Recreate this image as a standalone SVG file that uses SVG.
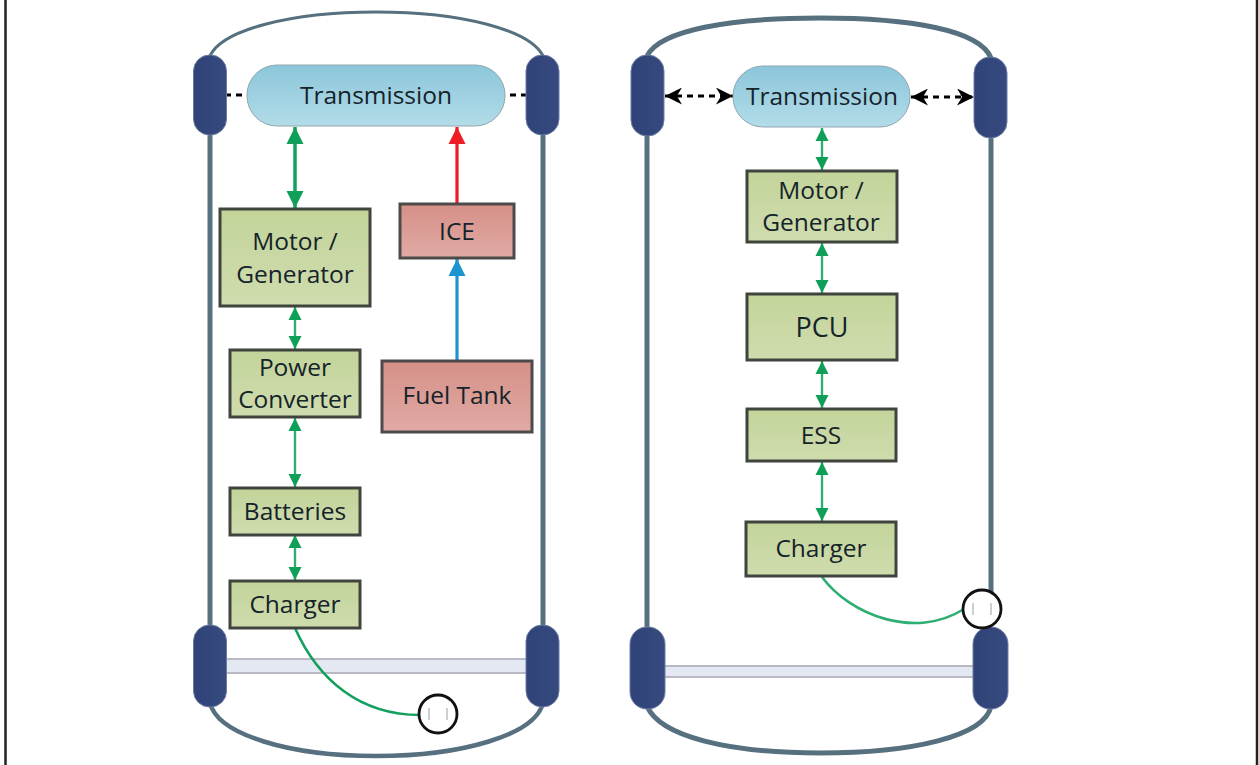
<svg xmlns="http://www.w3.org/2000/svg" width="1259" height="765" viewBox="0 0 1259 765">
<style>
text{font-family:"Open Sans","Noto Sans","DejaVu Sans",sans-serif;fill:#15232a;text-anchor:middle;font-size:24.500px}
.g{fill:url(#gg);stroke:#3f453d;stroke-width:3}
.r{fill:url(#gr);stroke:#4d4a4a;stroke-width:3}
.b{fill:url(#gb);stroke:#8fa6ae;stroke-width:1}
.w{fill:url(#gw);stroke:#6d7da0;stroke-width:1}
.body{fill:none;stroke:#56707f;stroke-linecap:round}
.a{fill:none;stroke:#2fae74;stroke-width:2.4}
.k{fill:none;stroke:#000;stroke-width:3;stroke-dasharray:6 5}
.axle{fill:#e4e8f3;stroke:#b2b3bd;stroke-width:1.8}
.plug{fill:#fff;stroke:#111;stroke-width:2.8}
.pin{stroke:#b5b5b5;stroke-width:1.3}
.cord{fill:none;stroke:#12a05c;stroke-width:2.6}
</style>
<defs>
<linearGradient id="gg" x1="0" y1="0" x2="0" y2="1"><stop offset="0" stop-color="#c3d49a"/><stop offset="1" stop-color="#cfdcae"/></linearGradient>
<linearGradient id="gr" x1="0" y1="0" x2="0" y2="1"><stop offset="0" stop-color="#d69088"/><stop offset="1" stop-color="#e0aaa4"/></linearGradient>
<linearGradient id="gb" x1="0" y1="0" x2="0" y2="1"><stop offset="0" stop-color="#8cc6da"/><stop offset="1" stop-color="#b2dce8"/></linearGradient>
<linearGradient id="gw" x1="0" y1="0" x2="1" y2="0"><stop offset="0" stop-color="#2f4379"/><stop offset="1" stop-color="#364a80"/></linearGradient>
<marker id="ge" viewBox="0 0 10 10" refX="10" refY="5" markerWidth="17" markerHeight="19" markerUnits="userSpaceOnUse" orient="auto-start-reverse"><path d="M0 0L10 5L0 10Z" fill="#0f9f58"/></marker>
<marker id="gs" viewBox="0 0 10 10" refX="10" refY="5" markerWidth="13" markerHeight="15" markerUnits="userSpaceOnUse" orient="auto-start-reverse"><path d="M0 0L10 5L0 10Z" fill="#0f9f58"/></marker>
<marker id="re" viewBox="0 0 10 10" refX="10" refY="5" markerWidth="17" markerHeight="19" markerUnits="userSpaceOnUse" orient="auto"><path d="M0 0L10 5L0 10Z" fill="#ee1c25"/></marker>
<marker id="be" viewBox="0 0 10 10" refX="10" refY="5" markerWidth="17" markerHeight="19" markerUnits="userSpaceOnUse" orient="auto"><path d="M0 0L10 5L0 10Z" fill="#1c94d0"/></marker>
<marker id="ke" viewBox="0 0 10 10" refX="10" refY="5" markerWidth="17" markerHeight="17" markerUnits="userSpaceOnUse" orient="auto-start-reverse"><path d="M0 0L10 5L0 10L3 5Z" fill="#000"/></marker>
</defs>
<path d="M5.500 0V765" stroke="#222" stroke-width="2.500" fill="none"/>
<path d="M1257 0V765" stroke="#222" stroke-width="2.500" fill="none"/>

<g id="connectors">
<path class="body" stroke-width="3" d="M210 56C222 30 290 12 376 12C462 12 530 30 543 56"/>
<path class="body" stroke-width="5" d="M210 130V630M543 130V630"/>
<path class="body" stroke-width="4.500" d="M210 703C218 735 290 756 376 756C462 756 535 735 543 703"/>
<path class="body" stroke-width="5" d="M647 56C660 30 730 18 820 18C910 18 980 30 991 58"/>
<path class="body" stroke-width="5" d="M647 132V632M991 135V595"/>
<path class="body" stroke-width="5" d="M647 706C660 737 730 753 820 753C910 753 985 737 991 706"/>
<rect class="axle" x="224" y="659" width="304" height="14"/>
<rect class="axle" x="662" y="666" width="320" height="11"/>
<path class="k" d="M225 95H243M510 95H527"/>
<path d="M295 127V208" fill="none" stroke="#12a05c" stroke-width="3.500" marker-start="url(#ge)" marker-end="url(#ge)"/>
<path d="M457 204V127" fill="none" stroke="#ee1c25" stroke-width="3.200" marker-end="url(#re)"/>
<path d="M457 360V259" fill="none" stroke="#1c94d0" stroke-width="3.200" marker-end="url(#be)"/>
<path class="a" d="M295 307V349" marker-start="url(#gs)" marker-end="url(#gs)"/>
<path class="a" d="M295 418V487" marker-start="url(#gs)" marker-end="url(#gs)"/>
<path class="a" d="M295 535V580" marker-start="url(#gs)" marker-end="url(#gs)"/>
<path class="cord" d="M295 628C318 680 360 715 420 715"/>
<path class="k" d="M665 96H733" marker-start="url(#ke)" marker-end="url(#ke)"/>
<path class="k" d="M911 97H974" marker-start="url(#ke)" marker-end="url(#ke)"/>
<path class="a" d="M822 128V170" marker-start="url(#gs)" marker-end="url(#gs)"/>
<path class="a" d="M822 243V293" marker-start="url(#gs)" marker-end="url(#gs)"/>
<path class="a" d="M822 361V408" marker-start="url(#gs)" marker-end="url(#gs)"/>
<path class="a" d="M822 462V521" marker-start="url(#gs)" marker-end="url(#gs)"/>
<path class="cord" style="stroke:#2fae74" d="M822 577C850 615 915 640 964 609"/>
</g>

<g id="wheel-fl"><rect class="w" x="193.500" y="55" width="33" height="80" rx="16"/></g>
<g id="wheel-fr"><rect class="w" x="526" y="55" width="33" height="80" rx="16"/></g>
<g id="wheel-rl"><rect class="w" x="193.500" y="625" width="33" height="82" rx="16"/></g>
<g id="wheel-rr"><rect class="w" x="526" y="625" width="33" height="82" rx="16"/></g>
<g id="wheel2-fl"><rect class="w" x="631" y="55" width="33" height="81" rx="16"/></g>
<g id="wheel2-fr"><rect class="w" x="974" y="57" width="33" height="81" rx="16"/></g>
<g id="wheel2-rl"><rect class="w" x="630" y="627" width="35" height="82" rx="17"/></g>
<g id="wheel2-rr"><rect class="w" x="973" y="627" width="35" height="82" rx="17"/></g>

<g id="plug1"><circle class="plug" cx="438" cy="714" r="19"/><path class="pin" d="M429 708V720M447 708V720"/></g>
<g id="plug2"><circle class="plug" cx="982" cy="609" r="19"/><path class="pin" d="M973 603V615M991 603V615"/></g>

<g id="transmission1"><rect class="b" x="247" y="65" width="258" height="61" rx="30"/><text x="376" y="104">Transmission</text></g>
<g id="motor1"><rect class="g" x="220" y="209" width="150" height="97"/><text x="295" y="250">Motor /</text><text x="295" y="283">Generator</text></g>
<g id="converter1"><rect class="g" x="230" y="350" width="130" height="67"/><text x="295" y="376">Power</text><text x="295" y="408">Converter</text></g>
<g id="batteries1"><rect class="g" x="230" y="488" width="130" height="47"/><text x="295" y="520">Batteries</text></g>
<g id="charger1"><rect class="g" x="230" y="581" width="130" height="47"/><text x="295" y="613">Charger</text></g>
<g id="ice"><rect class="r" x="400" y="204" width="114" height="54"/><text x="457" y="240">ICE</text></g>
<g id="fuel"><rect class="r" x="382" y="361" width="150" height="71"/><text x="457" y="404">Fuel Tank</text></g>

<g id="transmission2"><rect class="b" x="733" y="66" width="177" height="61" rx="30"/><text x="822" y="105">Transmission</text></g>
<g id="motor2"><rect class="g" x="747" y="171" width="150" height="71"/><text x="821" y="199">Motor /</text><text x="821" y="231">Generator</text></g>
<g id="pcu"><rect class="g" x="747" y="294" width="150" height="66"/><text x="822" y="337" style="font-size:27px">PCU</text></g>
<g id="ess"><rect class="g" x="747" y="409" width="149" height="52"/><text x="821" y="444">ESS</text></g>
<g id="charger2"><rect class="g" x="746" y="522" width="150" height="54"/><text x="821" y="557">Charger</text></g>
</svg>
